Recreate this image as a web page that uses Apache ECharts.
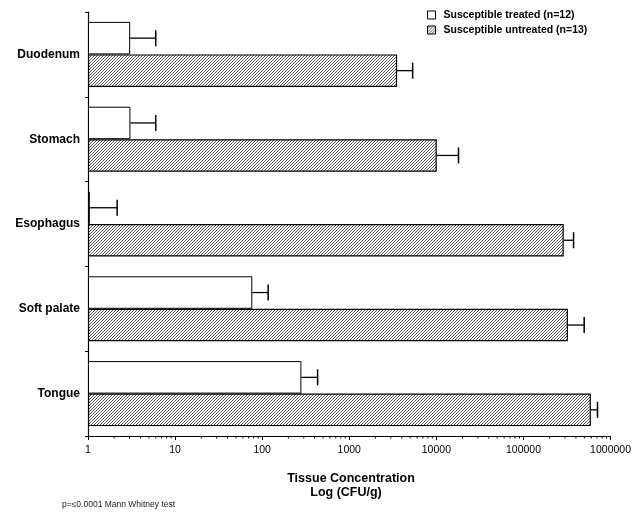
<!DOCTYPE html>
<html><head><meta charset="utf-8">
<script src="https://cdn.jsdelivr.net/npm/echarts@6/dist/echarts.min.js"></script>
<style>html,body{margin:0;padding:0;background:#fff}#c{width:634px;height:519px}</style>
</head><body><div id="c"></div>
<script>
const categories = ['Duodenum', 'Stomach', 'Esophagus', 'Soft palate', 'Tongue'];
const treatedMean = [3.05, 3.07, 1.05, 77, 282];
const treatedUpper = [6.0, 6.0, 2.16, 117, 433];
const untreatedMean = [3540, 10100, 290000, 324000, 594000];
const untreatedUpper = [5340, 17950, 376000, 498000, 708000];
const xTickLabels = ['1', '10', '100', '1000', '10000', '100000', '1000000'];
const minorTickValues = [2,3,4,5,6,7,8,9,20,30,40,50,60,70,80,90,200,300,400,500,600,700,800,900,
  2000,3000,4000,5000,6000,7000,8000,9000,20000,30000,40000,50000,60000,70000,80000,90000,
  200000,300000,400000,500000,600000,700000,800000,900000];

const FONT = '"Liberation Sans", Arial, Helvetica, sans-serif';
function hatch() {
  const s = 3, c = document.createElement('canvas');
  c.width = s; c.height = s;
  const g = c.getContext('2d');
  g.fillStyle = '#fff'; g.fillRect(0, 0, s, s);
  g.strokeStyle = '#333'; g.lineWidth = 0.8;
  g.beginPath();
  g.moveTo(0, s); g.lineTo(s, 0);
  g.moveTo(-1, 1); g.lineTo(1, -1);
  g.moveTo(s - 1, s + 1); g.lineTo(s + 1, s - 1);
  g.stroke();
  return c;
}
const hatchFill = { image: hatch(), repeat: 'repeat' };
const BW = 32.5;

function errItem(offset) {
  return function (params, api) {
    const cat = api.value(0);
    const p1 = api.coord([api.value(1), cat]);
    const p2 = api.coord([api.value(2), cat]);
    const y = p1[1] + offset;
    const h = 8;
    return {
      type: 'group',
      children: [
        { type: 'line', shape: { x1: p1[0], y1: y, x2: p2[0], y2: y }, style: { stroke: '#000', lineWidth: 1.3 } },
        { type: 'line', shape: { x1: p2[0], y1: y - h, x2: p2[0], y2: y + h }, style: { stroke: '#000', lineWidth: 1.5 } }
      ]
    };
  };
}

const chart = echarts.init(document.getElementById('c'), null, { renderer: 'canvas' });
chart.setOption({
  animation: false,
  backgroundColor: '#fff',
  textStyle: { fontFamily: FONT },
  grid: { left: 88, right: 21, top: 12, bottom: 83, containLabel: false },
  legend: {
    orient: 'vertical', left: 427, top: 9, padding: 0, itemWidth: 8, itemHeight: 8, itemGap: 3,
    icon: 'rect', selectedMode: false,
    itemStyle: { borderWidth: 1, borderColor: '#000' },
    data: ['Susceptible treated (n=12)', 'Susceptible untreated (n=13)'],
    textStyle: { fontFamily: FONT, fontWeight: 'bold', fontSize: 10.5, lineHeight: 12, color: '#000', padding: [0, 0, 0, 3] }
  },
  xAxis: {
    type: 'log', logBase: 10, min: 1, max: 1000000,
    axisLine: { show: true, lineStyle: { color: '#000', width: 1.2 } },
    axisTick: { show: true, length: 4, lineStyle: { color: '#000' } },
    splitLine: { show: false },
    axisLabel: {
      color: '#000', fontSize: 10.5, fontFamily: FONT, margin: 9,
      formatter: function (v) { const i = Math.round(Math.log10(v)); return xTickLabels[i] || ''; }
    }
  },
  yAxis: {
    type: 'category', data: categories, inverse: true,
    axisLine: { show: true, lineStyle: { color: '#000', width: 1.2 } },
    axisTick: { show: true, length: 3, alignWithLabel: false, lineStyle: { color: '#000' } },
    axisLabel: { color: '#000', fontSize: 12, fontWeight: 'bold', fontFamily: FONT, margin: 8 }
  },
  series: [
    {
      name: 'Susceptible treated (n=12)', type: 'bar', data: treatedMean,
      barWidth: BW, barGap: '0%',
      itemStyle: { color: '#fff', borderColor: '#000', borderWidth: 1 }
    },
    {
      name: 'Susceptible untreated (n=13)', type: 'bar', data: untreatedMean,
      barWidth: BW, barGap: '0%',
      itemStyle: { color: hatchFill, borderColor: '#000', borderWidth: 1.2 }
    },
    {
      type: 'custom', renderItem: errItem(-BW / 2), encode: { x: [1, 2], y: 0 }, z: 3,
      data: categories.map((c, i) => [i, treatedMean[i], treatedUpper[i]])
    },
    {
      type: 'custom', renderItem: errItem(BW / 2), encode: { x: [1, 2], y: 0 }, z: 3,
      data: categories.map((c, i) => [i, untreatedMean[i], untreatedUpper[i]])
    },
    {
      type: 'custom', z: 3, encode: { x: 0 },
      renderItem: function (params, api) {
        const p = api.coord([api.value(0), 0]);
        const yb = params.coordSys.y + params.coordSys.height;
        return { type: 'line', shape: { x1: p[0], y1: yb, x2: p[0], y2: yb + 2.5 }, style: { stroke: '#000', lineWidth: 1 } };
      },
      data: minorTickValues.map(v => [v])
    }
  ],
  graphic: [
    { type: 'text', x: 351, y: 479, style: { text: 'Tissue Concentration', fontFamily: FONT, fontWeight: 'bold', fontSize: 12.5, fill: '#000', align: 'center', verticalAlign: 'middle' } },
    { type: 'text', x: 346, y: 493, style: { text: 'Log (CFU/g)', fontFamily: FONT, fontWeight: 'bold', fontSize: 12.5, fill: '#000', align: 'center', verticalAlign: 'middle' } },
    { type: 'text', x: 62, y: 505, style: { text: 'p=≤0.0001 Mann Whitney test', fontFamily: FONT, fontSize: 8.5, fill: '#222', align: 'left', verticalAlign: 'middle' } }
  ]
});
</script></body></html>
